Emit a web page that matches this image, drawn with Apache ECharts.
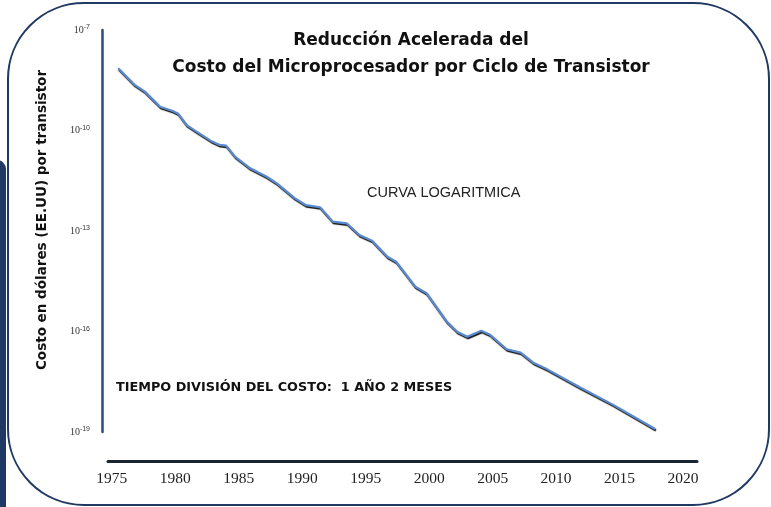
<!DOCTYPE html>
<html>
<head>
<meta charset="utf-8">
<script src="https://cdn.jsdelivr.net/npm/echarts@6/dist/echarts.min.js"></script>
<style>html,body{margin:0;padding:0;background:#fff}#c{width:771px;height:507px}</style>
</head>
<body>
<div id="c"></div>
<script>
// Year (fractional) and log10 of cost in US$ per transistor cycle
const years = [1975.5,1976.8,1977.6,1978.8,1979.8,1980.2,1980.9,1981.7,1982.9,1983.5,1984.0,1984.7,1985.9,1987.2,1988.0,1989.4,1990.3,1991.4,1992.4,1993.5,1994.5,1995.5,1996.7,1997.4,1998.9,1999.8,2001.4,2002.2,2003.0,2004.1,2004.8,2006.1,2007.2,2008.2,2009.3,2011.9,2014.5,2017.8];
const logCost = [-8.14,-8.64,-8.84,-9.29,-9.42,-9.49,-9.84,-10.04,-10.33,-10.43,-10.45,-10.78,-11.13,-11.38,-11.58,-12.02,-12.23,-12.29,-12.72,-12.77,-13.12,-13.29,-13.77,-13.92,-14.66,-14.86,-15.71,-16.01,-16.16,-15.98,-16.10,-16.53,-16.63,-16.93,-17.13,-17.67,-18.19,-18.91];
const xTickYears = [1975,1980,1985,1990,1995,2000,2005,2010,2015,2020];
const yTickExps = [-7,-10,-13,-16,-19];

const titleLines = ['Reducción Acelerada del','Costo del Microprocesador por Ciclo de Transistor'];
const yName = 'Costo en dólares (EE.UU) por transistor';
const note1 = 'CURVA LOGARITMICA';
const note2 = 'TIEMPO DIVISIÓN DEL COSTO:  1 AÑO 2 MESES';

const chart = echarts.init(document.getElementById('c'), null, {renderer:'canvas'});
const navy = '#1f3864';
chart.setOption({
  animation:false,
  backgroundColor:'#ffffff',
  title:{
    text: titleLines.join('\n'),
    left: 406, top: 22, textAlign:'center',
    textStyle:{fontFamily:'DejaVu Sans', fontWeight:'bold', fontSize:17, lineHeight:27, color:'#111'}
  },
  graphic:[
    {type:'rect', z:-1, shape:{x:8,y:3,width:761,height:502,r:76}, style:{fill:'none',stroke:navy,lineWidth:2}},
    {type:'rect', z:-1, shape:{x:-12,y:160,width:18,height:360,r:9}, style:{fill:navy}},
    {type:'text', left:367, top:185, style:{text:note1, fontFamily:'Liberation Sans', fontSize:14.5, fill:'#222'}},
    {type:'text', left:116, top:381, style:{text:note2, fontFamily:'DejaVu Sans', fontWeight:'bold', fontSize:12.8, fill:'#111'}},
    {type:'text', x:42, y:220, rotation:Math.PI/2, style:{text:yName, fontFamily:'DejaVu Sans', fontWeight:'bold', fontSize:13.5, fill:'#111', align:'center', verticalAlign:'middle'}}
  ],
  grid:{left:108, right:74, top:30, bottom:75, containLabel:false},
  xAxis:{
    type:'value', min:1974.7, max:2021.1, offset:29,
    splitLine:{show:false},
    axisLine:{show:true, onZero:false, lineStyle:{color:'#1b2433', width:3}},
    axisTick:{show:false},
    axisLabel:{customValues:xTickYears, margin:10, fontFamily:'Liberation Serif', fontSize:15.5, color:'#222', formatter:v=>String(v)}
  },
  yAxis:{
    type:'value', min:-19, max:-7, interval:3, offset:6,
    splitLine:{show:false},
    axisLine:{show:true, onZero:false, lineStyle:{color:'#2c4a7a', width:2.5}},
    axisTick:{show:false},
    axisLabel:{
      margin:12, color:'#333',
      formatter:v=>'{b|10}{s|'+v+'}',
      rich:{b:{fontFamily:'Liberation Serif', fontSize:10, color:'#333'}, s:{fontFamily:'Liberation Sans', fontSize:7, color:'#333', verticalAlign:'top', padding:[0,0,5,0]}}
    }
  },
  series:[{
    type:'line', symbol:'none', smooth:false,
    data: years.map((y,i)=>[y, logCost[i]]),
    lineStyle:{color:'#5a8ad0', width:2.2, shadowColor:'rgba(0,0,0,0.95)', shadowBlur:1, shadowOffsetX:0.8, shadowOffsetY:1.5}
  }]
});
</script>
</body>
</html>
